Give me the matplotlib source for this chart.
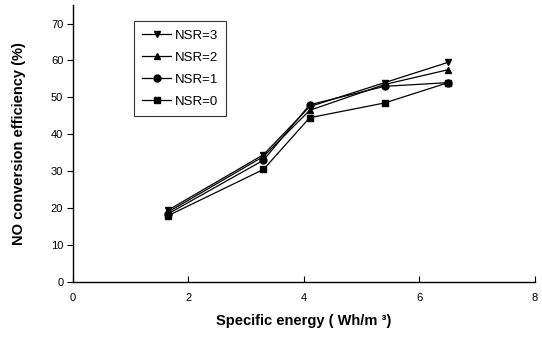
import matplotlib
matplotlib.use("Agg")
import matplotlib.pyplot as plt

energy = [1.65, 3.3, 4.1, 5.4, 6.5]
nsr3 = [19.5, 34.5, 47.5, 54.0, 59.5]
nsr2 = [19.0, 34.0, 46.5, 53.5, 57.5]
nsr1 = [18.5, 33.0, 48.0, 53.0, 54.0]
nsr0 = [18.0, 30.5, 44.5, 48.5, 54.0]
labels = ["NSR=3", "NSR=2", "NSR=1", "NSR=0"]
markers = ["v", "^", "o", "s"]

plt.rcParams['font.family'] = ['Liberation Sans', 'DejaVu Sans']

fig = plt.figure(figsize=(5.42, 3.37), dpi=100)
ax = fig.add_axes([0.1347, 0.163, 0.852, 0.822])

for ys, lab, m in zip([nsr3, nsr2, nsr1, nsr0], labels, markers):
    ax.plot(energy, ys, color='black', linewidth=0.9, marker=m, markersize=5,
            markerfacecolor='black', markeredgecolor='black', label=lab)

ax.set_xlim(0, 8)
ax.set_ylim(0, 75)
ax.set_xticks([0, 2, 4, 6, 8])
ax.set_yticks(range(0, 71, 10))
ax.spines['top'].set_visible(False)
ax.spines['right'].set_visible(False)
ax.spines['left'].set_linewidth(1.0)
ax.spines['bottom'].set_linewidth(1.0)
ax.tick_params(axis='y', direction='out', length=4, labelsize=8, pad=3)
ax.tick_params(axis='x', direction='in', length=4, labelsize=8, pad=8)

ax.set_xlabel("Specific energy ( Wh/m \u00b3)", fontsize=10.5, fontweight='bold', labelpad=8)
ax.set_ylabel("NO conversion efficiency (%)", fontsize=10.5, fontweight='bold', labelpad=18)

leg = ax.legend(loc='upper left', bbox_to_anchor=(0.118, 0.965), frameon=True,
                fontsize=9.5, handlelength=2.2, labelspacing=0.75, borderpad=0.6,
                handletextpad=0.3, fancybox=False, edgecolor='black')
leg.get_frame().set_linewidth(0.8)

fig.savefig("out.png", dpi=100)
